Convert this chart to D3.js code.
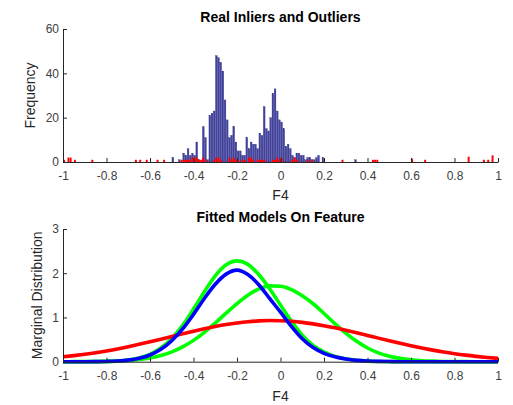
<!DOCTYPE html>
<html><head><meta charset="utf-8">
<script src="https://cdn.jsdelivr.net/npm/d3@7/dist/d3.min.js"></script>
<style>
body{margin:0;background:#fff;}
svg{display:block;font-family:"Liberation Sans",Arial,Helvetica,sans-serif;}
</style></head>
<body>
<svg id="chart" width="513" height="405"></svg>
<script>
// ---------- DATA ----------
const binWidth = 0.01;
// inlier histogram: bin centres from -0.495 upward in 0.01 steps
const inlierFirstCenter = -0.495;
const inlierCounts = [
  2,0,0,1,0,4,3,6,3,4,      // -0.495 .. -0.405
  3,9,1,0,16,11,1,21,22,23, // -0.395 .. -0.305
  48,47,45,41,28,19,11,12,16,9, // -0.295 .. -0.205
  5,5,3,3,11,6,9,8,8,6,     // -0.195 .. -0.105
  13,12,25,15,14,20,31,33,23,19, // -0.095 .. -0.005
  18,15,7,8,6,3,2,4,4,3,    // 0.005 .. 0.095
  3,1,2,2,1,1,2,3,0,2,      // 0.105 .. 0.195
  0,0,0,0,0,0,0,0,0,0,      // 0.205 .. 0.295
  0,0,0,0,1                 // 0.305 .. 0.345
];
// outlier histogram: bin centres and counts
const outlierCenters = [-0.995,-0.975,-0.965,-0.945,-0.865,-0.665,-0.645,-0.615,-0.565,-0.535,
  -0.455,-0.445,-0.435,-0.425,-0.415,-0.405,-0.395,-0.385,-0.375,-0.365,-0.355,-0.345,
  -0.305,-0.295,-0.285,-0.275,-0.235,-0.225,-0.215,-0.205,-0.195,-0.175,-0.165,
  -0.145,-0.135,-0.125,-0.105,-0.095,-0.085,-0.075,-0.035,-0.025,-0.015,-0.005,0.005,
  0.055,0.065,0.075,0.125,0.145,0.285,0.425,0.435,0.445,0.605,0.665,0.865,0.935,0.955,0.975];
const outlierCounts = [1,2,2,1,1,1,1,1,1,1,
  1,1,1,1,1,2,2,2,1,1,2,1,
  1,2,2,1,2,1,2,1,1,1,1,
  2,2,1,1,1,1,1,1,1,2,1,2,
  1,2,1,1,1,1,1,1,1,1.5,1,2.4,1,1,3];

// fitted model curves sampled every 0.05 on F4
const curveX = [-1,-0.95,-0.9,-0.85,-0.8,-0.75,-0.7,-0.65,-0.6,-0.55,-0.5,-0.45,-0.4,-0.35,-0.3,-0.25,-0.2,-0.15,-0.1,-0.05,
  0,0.05,0.1,0.15,0.2,0.25,0.3,0.35,0.4,0.45,0.5,0.55,0.6,0.65,0.7,0.75,0.8,0.85,0.9,0.95,1];
const greenA = [0,0,0,0.002,0.006,0.016,0.038,0.084,0.167,0.309,0.525,0.82,1.19,1.58,1.94,2.19,2.28,2.2,1.97,1.65,
  1.28,0.92,0.6,0.37,0.22,0.12,0.065,0.03,0.014,0.006,0.002,0,0,0,0,0,0,0,0,0,0];
const greenB = [0,0.001,0.002,0.003,0.007,0.014,0.026,0.048,0.084,0.139,0.221,0.334,0.482,0.664,0.874,1.097,1.315,1.505,1.643,1.714,
  1.706,1.63,1.49,1.31,1.09,0.86,0.645,0.46,0.31,0.2,0.125,0.075,0.043,0.023,0.012,0.006,0.003,0.001,0,0,0];
const redC = [0.110,0.137,0.168,0.203,0.244,0.289,0.339,0.393,0.450,0.509,0.570,0.630,0.689,0.744,0.795,0.840,0.876,0.904,0.922,0.930,
  0.926,0.913,0.889,0.855,0.814,0.765,0.711,0.654,0.594,0.533,0.473,0.415,0.360,0.309,0.262,0.219,0.181,0.148,0.120,0.096,0.076];
const blueC = [0,0,0,0.002,0.006,0.015,0.035,0.076,0.151,0.279,0.474,0.74,1.07,1.43,1.75,1.98,2.07,1.97,1.74,1.43,
  1.12,0.8,0.52,0.32,0.19,0.11,0.06,0.03,0.015,0.007,0.003,0,0,0,0,0,0,0,0,0,0];

const xTicks = [-1,-0.8,-0.6,-0.4,-0.2,0,0.2,0.4,0.6,0.8,1];
const yTicksTop = [0,20,40,60];
const yTicksBottom = [0,1,2,3];

// ---------- DRAW ----------
const svg = d3.select("#chart");
const axisColor = "#262626", tickText = "#404040";
const left = 63, right = 498;
const plain = d => String(d);

function styleAxis(g){
  g.select(".domain").attr("stroke", axisColor).attr("stroke-width",1);
  g.selectAll(".tick line").attr("stroke", axisColor);
  g.selectAll(".tick text").attr("fill", tickText).style("font-size","12px")
   .style("font-family",'"Liberation Sans",Arial,sans-serif');
}

function panel(top, bottom, yDomain, yTicks, title, titleY, yLabel, yLabelX, xLabelY){
  const x = d3.scaleLinear().domain([-1,1]).range([left,right]);
  const y = d3.scaleLinear().domain(yDomain).range([bottom, top]);
  const gx = svg.append("g").attr("class","axis").attr("transform",`translate(0,${bottom})`)
    .call(d3.axisBottom(x).tickValues(xTicks).tickSizeInner(-4).tickSizeOuter(0).tickPadding(9.5).tickFormat(plain));
  styleAxis(gx);
  const gy = svg.append("g").attr("class","axis").attr("transform",`translate(${left},0)`)
    .call(d3.axisLeft(y).tickValues(yTicks).tickSizeInner(-4).tickSizeOuter(0).tickPadding(4).tickFormat(plain));
  styleAxis(gy);
  svg.append("text").attr("x",(left+right)/2).attr("y",titleY).attr("text-anchor","middle")
    .style("font-size","14px").style("font-weight","bold").attr("fill","#000").text(title);
  svg.append("text").attr("x",(left+right)/2).attr("y",xLabelY).attr("text-anchor","middle")
    .style("font-size","14px").attr("fill",axisColor).text("F4");
  svg.append("text").attr("transform",`translate(${yLabelX},${(top+bottom)/2}) rotate(-90)`)
    .attr("text-anchor","middle").style("font-size","14px").attr("fill",axisColor).text(yLabel);
  return {x,y};
}

// Top: histogram
const P1 = panel(29, 162, [0,60], yTicksTop, "Real Inliers and Outliers", 22, "Frequency", 35, 200);
const inliers = inlierCounts.map((c,i)=>({c: inlierFirstCenter + i*binWidth, v:c})).filter(d=>d.v>0);
const outliers = outlierCenters.map((c,i)=>({c, v: outlierCounts[i]}));
const barsG = svg.insert("g", ".axis");
barsG.selectAll("rect.in").data(inliers).join("rect").attr("class","in")
  .attr("x", d=>P1.x(d.c - binWidth*0.4))
  .attr("width", d=>P1.x(d.c + binWidth*0.4) - P1.x(d.c - binWidth*0.4))
  .attr("y", d=>P1.y(d.v)).attr("height", d=>P1.y(0)-P1.y(d.v))
  .attr("fill","#4242a2").attr("stroke","#2a2a78").attr("stroke-width",0.3);
barsG.selectAll("rect.out").data(outliers).join("rect").attr("class","out")
  .attr("x", d=>P1.x(d.c - binWidth*0.45))
  .attr("width", d=>P1.x(d.c + binWidth*0.45) - P1.x(d.c - binWidth*0.45))
  .attr("y", d=>P1.y(d.v)).attr("height", d=>P1.y(0)-P1.y(d.v))
  .attr("fill","#ff0000");

// Bottom: fitted curves
const P2 = panel(229, 361.7, [0,3], yTicksBottom, "Fitted Models On Feature", 222, "Marginal Distribution", 42, 401);
const line = d3.line().x(d=>P2.x(d[0])).y(d=>P2.y(d[1])).curve(d3.curveMonotoneX);
const curvesG = svg.insert("g", ".axis");
[[greenA,"#00ff00"],[greenB,"#00ff00"],[redC,"#ff0000"],[blueC,"#0000ff"]].forEach(([vals,col])=>{
  curvesG.append("path").datum(curveX.map((xv,i)=>[xv, vals[i]]))
    .attr("d", line).attr("fill","none").attr("stroke",col).attr("stroke-width",3.6)
    .attr("stroke-linejoin","round");
});
svg.selectAll(".axis").raise();
</script>
</body></html>
